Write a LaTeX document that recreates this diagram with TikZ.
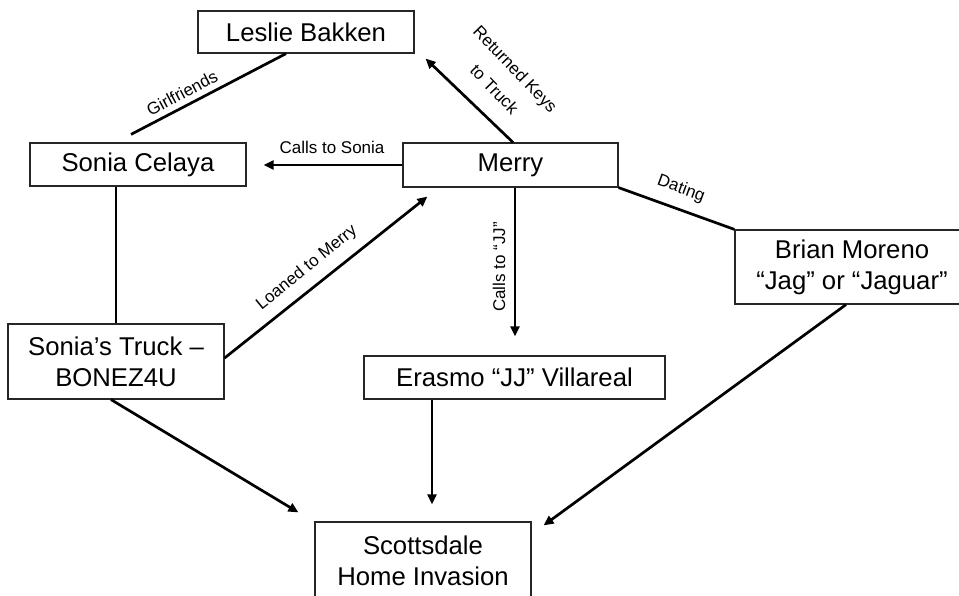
\documentclass[tikz,border=0pt]{standalone}
\usepackage{fontspec}
\setmainfont{Liberation Sans}
\usetikzlibrary{arrows.meta,calc}
\begin{document}
\begin{tikzpicture}[x=1pt,y=-1pt,
  box/.style={draw=black!85,line width=1.2pt,rectangle,inner sep=0pt,align=center,
    font=\fontsize{25.7}{31}\selectfont},
  conn/.style={line width=2.7pt,black},
  arr/.style={conn,-{Triangle[length=10pt,width=9pt]}},
  lab/.style={font=\fontsize{17}{29}\selectfont,inner sep=0pt,align=center}]
\clip (0,0) rectangle (959,595);
\fill[white] (0,0) rectangle (959,595);
% nodes
\node[box,minimum width=216,minimum height=42] (leslie) at (306,32) {Leslie Bakken};
\node[box,minimum width=216,minimum height=43] (sonia) at (138,164.5) {Sonia Celaya};
\node[box,minimum width=215,minimum height=44] (merry) at (510.5,165) {Merry};
\node[box,minimum width=234,minimum height=74] (brian) at (852,267) {Brian Moreno\\“Jag” or “Jaguar”};
\node[box,minimum width=216,minimum height=75] (truck) at (116,361.5) {Sonia’s Truck –\\BONEZ4U};
\node[box,minimum width=301,minimum height=43] (erasmo) at (514.5,377.5) {Erasmo “JJ” Villareal};
\node[box,minimum width=216,minimum height=78] (scott) at (423,561) {Scottsdale\\Home Invasion};
% connectors
\draw[conn] ($(leslie.south)+(-20,0)$) -- ($(sonia.north)+(-7,-8)$);
\draw[arr] ($(merry.north)+(2.5,0)$) -- ($(leslie.south east)+(11,5)$);
\draw[arr] (merry.west) -- ($(sonia.east)+(17,0.5)$);
\draw[arr] ($(merry.south)+(4.5,0)$) -- ($(erasmo.north)+(0.5,-19)$);
\draw[arr] ($(truck.east)+(0,-3.5)$) -- ($(merry.south west)+(25,9)$);
\draw[conn] (merry.south east) -- (brian.north west);
\draw[conn] ($(sonia.south)+(-22,0)$) -- (truck.north);
\draw[arr] ($(truck.south)+(-5,0)$) -- ($(scott.north west)+(-16,-9)$);
\draw[arr] ($(erasmo.south)+(-82.5,0)$) -- ($(scott.north)+(9,-17)$);
\draw[arr] ($(brian.south)+(-6,0)$) -- ($(scott.north east)+(12,4)$);
% labels
\node[lab,rotate=28] (lgirl) at (182,93) {Girlfriends};
\node[lab,rotate=-46] (lkeys) at (505,79) {Returned Keys\\to Truck};
\node[lab] (lsonia) at (332,147) {Calls to Sonia};
\node[lab,rotate=90] (ljj) at (499,267) {Calls to “JJ”};
\node[lab,rotate=39] (lloan) at (307,268) {Loaned to Merry};
\node[lab,rotate=-20] (ldate) at (681,189) {Dating};
\end{tikzpicture}
\end{document}
